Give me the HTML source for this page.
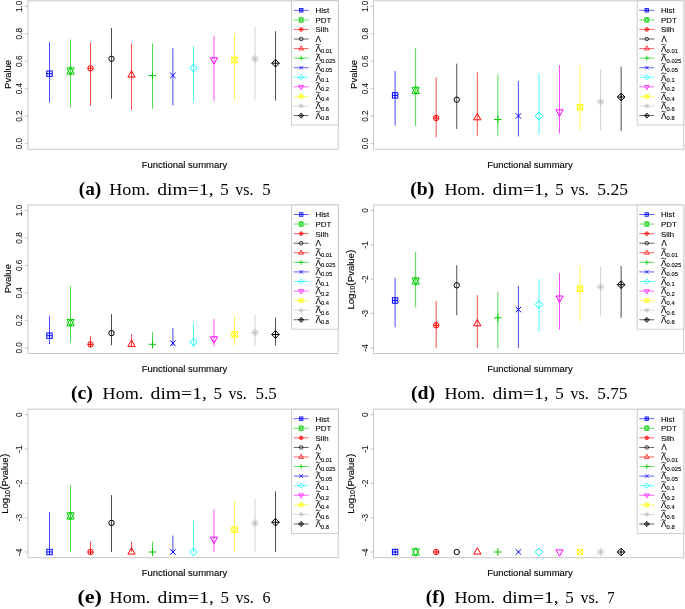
<!DOCTYPE html>
<html><head><meta charset="utf-8"><style>
html,body{margin:0;padding:0;background:#fff;}
svg{display:block;will-change:transform;}
text{font-family:"Liberation Sans",sans-serif;fill:#000;}
.tk{font-size:8.2px;fill:#111;stroke:#111;stroke-width:0.08px;}
.lab{font-size:9.5px;fill:#000;stroke:#000;stroke-width:0.12px;}
.sub{font-size:7px;}
.par{font-size:11px;}
.leg{font-size:7.9px;fill:#000;stroke:#000;stroke-width:0.1px;}
.lsub{font-size:5.8px;}
.lam{font-size:8.4px;}
.cap,.capb{font-family:"Liberation Serif",serif;font-size:16.7px;fill:#000;}
.capb{font-weight:bold;font-size:19px;}
</style></head><body>
<svg width="685" height="609" viewBox="0 0 685 609">
<rect width="685" height="609" fill="#fff"/>
<g transform="translate(0,0)">
<rect x="27.9" y="0.8" width="310.3" height="148.5" fill="none" stroke="#c8c8c8" stroke-width="1"/>
<line x1="24.9" y1="143.6" x2="27.9" y2="143.6" stroke="#b4b4b4" stroke-width="0.8"/>
<text x="0" y="0" transform="translate(22,143.6) rotate(-90)" text-anchor="middle" class="tk">0.0</text>
<line x1="24.9" y1="116.14" x2="27.9" y2="116.14" stroke="#b4b4b4" stroke-width="0.8"/>
<text x="0" y="0" transform="translate(22,116.14) rotate(-90)" text-anchor="middle" class="tk">0.2</text>
<line x1="24.9" y1="88.68" x2="27.9" y2="88.68" stroke="#b4b4b4" stroke-width="0.8"/>
<text x="0" y="0" transform="translate(22,88.68) rotate(-90)" text-anchor="middle" class="tk">0.4</text>
<line x1="24.9" y1="61.22" x2="27.9" y2="61.22" stroke="#b4b4b4" stroke-width="0.8"/>
<text x="0" y="0" transform="translate(22,61.22) rotate(-90)" text-anchor="middle" class="tk">0.6</text>
<line x1="24.9" y1="33.76" x2="27.9" y2="33.76" stroke="#b4b4b4" stroke-width="0.8"/>
<text x="0" y="0" transform="translate(22,33.76) rotate(-90)" text-anchor="middle" class="tk">0.8</text>
<line x1="24.9" y1="6.3" x2="27.9" y2="6.3" stroke="#b4b4b4" stroke-width="0.8"/>
<text x="0" y="0" transform="translate(22,6.3) rotate(-90)" text-anchor="middle" class="tk">1.0</text>
<text transform="translate(11,74.4) rotate(-90)" text-anchor="middle" class="lab">Pvalue</text>
<text x="184.4" y="167.8" text-anchor="middle" class="lab">Functional summary</text>
<line x1="49.5" y1="42" x2="49.5" y2="102.6" stroke="#0000ff" stroke-width="0.7"/>
<rect x="46.8" y="71" width="5.4" height="5.4" fill="none" stroke="#0000ff" stroke-width="1"/><line x1="46.8" y1="73.7" x2="52.2" y2="73.7" fill="none" stroke="#0000ff" stroke-width="1"/><line x1="49.5" y1="71" x2="49.5" y2="76.4" fill="none" stroke="#0000ff" stroke-width="1"/>
<line x1="70.5" y1="39.4" x2="70.5" y2="107.5" stroke="#00cd00" stroke-width="0.7"/>
<polygon points="70.5,66.8 74.14,74.15 66.86,74.15" fill="none" stroke="#00cd00" stroke-width="1"/><polygon points="70.5,75.2 74.14,67.85 66.86,67.85" fill="none" stroke="#00cd00" stroke-width="1"/>
<line x1="90.5" y1="42.3" x2="90.5" y2="105.9" stroke="#ff0000" stroke-width="0.7"/>
<circle cx="90.5" cy="68.3" r="2.7" fill="none" stroke="#ff0000" stroke-width="1"/><line x1="87.8" y1="68.3" x2="93.2" y2="68.3" fill="none" stroke="#ff0000" stroke-width="1"/><line x1="90.5" y1="65.6" x2="90.5" y2="71" fill="none" stroke="#ff0000" stroke-width="1"/>
<line x1="111.5" y1="27.9" x2="111.5" y2="98.7" stroke="#000000" stroke-width="0.7"/>
<circle cx="111.5" cy="58.8" r="2.7" fill="none" stroke="#000000" stroke-width="1"/>
<line x1="131.5" y1="43.5" x2="131.5" y2="109.8" stroke="#ff0000" stroke-width="0.7"/>
<polygon points="131.5,70.8 135.14,77.1 127.86,77.1" fill="none" stroke="#ff0000" stroke-width="1"/>
<line x1="152.5" y1="43.5" x2="152.5" y2="108.8" stroke="#00cd00" stroke-width="0.7"/>
<line x1="148.68" y1="75.5" x2="156.32" y2="75.5" fill="none" stroke="#00cd00" stroke-width="1"/><line x1="152.5" y1="71.68" x2="152.5" y2="79.32" fill="none" stroke="#00cd00" stroke-width="1"/>
<line x1="172.9" y1="48.2" x2="172.9" y2="105.4" stroke="#0000ff" stroke-width="0.7"/>
<line x1="170.2" y1="72.8" x2="175.6" y2="78.2" fill="none" stroke="#0000ff" stroke-width="1"/><line x1="170.2" y1="78.2" x2="175.6" y2="72.8" fill="none" stroke="#0000ff" stroke-width="1"/>
<line x1="193.5" y1="45.8" x2="193.5" y2="101.8" stroke="#00ffff" stroke-width="0.7"/>
<polygon points="189.68,68 193.5,64.18 197.32,68 193.5,71.82" fill="none" stroke="#00ffff" stroke-width="1"/>
<line x1="214" y1="35.9" x2="214" y2="100.8" stroke="#ff00ff" stroke-width="0.7"/>
<polygon points="214,64.1 217.64,57.8 210.36,57.8" fill="none" stroke="#ff00ff" stroke-width="1"/>
<line x1="234.5" y1="34.4" x2="234.5" y2="100.1" stroke="#ffff00" stroke-width="0.7"/>
<line x1="231.8" y1="57.2" x2="237.2" y2="62.6" fill="none" stroke="#ffff00" stroke-width="1"/><line x1="231.8" y1="62.6" x2="237.2" y2="57.2" fill="none" stroke="#ffff00" stroke-width="1"/><rect x="231.8" y="57.2" width="5.4" height="5.4" fill="none" stroke="#ffff00" stroke-width="1"/>
<line x1="255" y1="26.9" x2="255" y2="99.8" stroke="#bebebe" stroke-width="0.7"/>
<line x1="251.18" y1="58.9" x2="258.82" y2="58.9" fill="none" stroke="#bebebe" stroke-width="1"/><line x1="255" y1="55.08" x2="255" y2="62.72" fill="none" stroke="#bebebe" stroke-width="1"/><line x1="252.3" y1="56.2" x2="257.7" y2="61.6" fill="none" stroke="#bebebe" stroke-width="1"/><line x1="252.3" y1="61.6" x2="257.7" y2="56.2" fill="none" stroke="#bebebe" stroke-width="1"/>
<line x1="275.5" y1="31.2" x2="275.5" y2="100.6" stroke="#000000" stroke-width="0.7"/>
<line x1="271.68" y1="63.2" x2="279.32" y2="63.2" fill="none" stroke="#000000" stroke-width="1"/><line x1="275.5" y1="59.38" x2="275.5" y2="67.02" fill="none" stroke="#000000" stroke-width="1"/><polygon points="271.68,63.2 275.5,59.38 279.32,63.2 275.5,67.02" fill="none" stroke="#000000" stroke-width="1"/>
<rect x="291.6" y="0.8" width="46.6" height="124.2" fill="#fff" stroke="#c8c8c8" stroke-width="0.9"/>
<line x1="293.7" y1="10.3" x2="308.7" y2="10.3" stroke="#0000ff" stroke-width="0.62"/>
<rect x="299.4" y="8.5" width="3.6" height="3.6" fill="none" stroke="#0000ff" stroke-width="0.75"/><line x1="299.4" y1="10.3" x2="303" y2="10.3" fill="none" stroke="#0000ff" stroke-width="0.75"/><line x1="301.2" y1="8.5" x2="301.2" y2="12.1" fill="none" stroke="#0000ff" stroke-width="0.75"/>
<text x="315.5" y="13.2" class="leg">Hist</text>
<line x1="293.7" y1="19.87" x2="308.7" y2="19.87" stroke="#00cd00" stroke-width="0.62"/>
<polygon points="301.2,17.07 303.62,21.97 298.78,21.97" fill="none" stroke="#00cd00" stroke-width="0.75"/><polygon points="301.2,22.67 303.62,17.77 298.78,17.77" fill="none" stroke="#00cd00" stroke-width="0.75"/>
<text x="315.5" y="22.77" class="leg">PDT</text>
<line x1="293.7" y1="29.44" x2="308.7" y2="29.44" stroke="#ff0000" stroke-width="0.62"/>
<circle cx="301.2" cy="29.44" r="1.8" fill="none" stroke="#ff0000" stroke-width="0.75"/><line x1="299.4" y1="29.44" x2="303" y2="29.44" fill="none" stroke="#ff0000" stroke-width="0.75"/><line x1="301.2" y1="27.64" x2="301.2" y2="31.24" fill="none" stroke="#ff0000" stroke-width="0.75"/>
<text x="315.5" y="32.34" class="leg">Silh</text>
<line x1="293.7" y1="39.01" x2="308.7" y2="39.01" stroke="#000000" stroke-width="0.62"/>
<circle cx="301.2" cy="39.01" r="1.8" fill="none" stroke="#000000" stroke-width="0.75"/>
<text x="315.6" y="41.81" class="leg lam">&#923;</text>
<line x1="293.7" y1="48.58" x2="308.7" y2="48.58" stroke="#ff0000" stroke-width="0.62"/>
<polygon points="301.2,45.78 303.62,49.98 298.78,49.98" fill="none" stroke="#ff0000" stroke-width="0.75"/>
<text x="315.4" y="51.83" class="leg lam">&#923;<tspan class="lsub" dy="1.3">0.01</tspan></text>
<path d="M315.9,44.78 c0.7,-0.6 1.4,-0.6 2.2,-0.1 s1.5,0.5 2.3,-0.2" fill="none" stroke="#000" stroke-width="0.85"/>
<line x1="293.7" y1="58.15" x2="308.7" y2="58.15" stroke="#00cd00" stroke-width="0.62"/>
<line x1="298.65" y1="58.15" x2="303.75" y2="58.15" fill="none" stroke="#00cd00" stroke-width="0.75"/><line x1="301.2" y1="55.6" x2="301.2" y2="60.7" fill="none" stroke="#00cd00" stroke-width="0.75"/>
<text x="315.4" y="61.4" class="leg lam">&#923;<tspan class="lsub" dy="1.3">0.025</tspan></text>
<path d="M315.9,54.35 c0.7,-0.6 1.4,-0.6 2.2,-0.1 s1.5,0.5 2.3,-0.2" fill="none" stroke="#000" stroke-width="0.85"/>
<line x1="293.7" y1="67.72" x2="308.7" y2="67.72" stroke="#0000ff" stroke-width="0.62"/>
<line x1="299.4" y1="65.92" x2="303" y2="69.52" fill="none" stroke="#0000ff" stroke-width="0.75"/><line x1="299.4" y1="69.52" x2="303" y2="65.92" fill="none" stroke="#0000ff" stroke-width="0.75"/>
<text x="315.4" y="70.97" class="leg lam">&#923;<tspan class="lsub" dy="1.3">0.05</tspan></text>
<path d="M315.9,63.92 c0.7,-0.6 1.4,-0.6 2.2,-0.1 s1.5,0.5 2.3,-0.2" fill="none" stroke="#000" stroke-width="0.85"/>
<line x1="293.7" y1="77.29" x2="308.7" y2="77.29" stroke="#00ffff" stroke-width="0.62"/>
<polygon points="298.65,77.29 301.2,74.74 303.75,77.29 301.2,79.84" fill="none" stroke="#00ffff" stroke-width="0.75"/>
<text x="315.4" y="80.54" class="leg lam">&#923;<tspan class="lsub" dy="1.3">0.1</tspan></text>
<path d="M315.9,73.49 c0.7,-0.6 1.4,-0.6 2.2,-0.1 s1.5,0.5 2.3,-0.2" fill="none" stroke="#000" stroke-width="0.85"/>
<line x1="293.7" y1="86.86" x2="308.7" y2="86.86" stroke="#ff00ff" stroke-width="0.62"/>
<polygon points="301.2,89.66 303.62,85.46 298.78,85.46" fill="none" stroke="#ff00ff" stroke-width="0.75"/>
<text x="315.4" y="90.11" class="leg lam">&#923;<tspan class="lsub" dy="1.3">0.2</tspan></text>
<path d="M315.9,83.06 c0.7,-0.6 1.4,-0.6 2.2,-0.1 s1.5,0.5 2.3,-0.2" fill="none" stroke="#000" stroke-width="0.85"/>
<line x1="293.7" y1="96.43" x2="308.7" y2="96.43" stroke="#ffff00" stroke-width="0.62"/>
<line x1="299.4" y1="94.63" x2="303" y2="98.23" fill="none" stroke="#ffff00" stroke-width="0.75"/><line x1="299.4" y1="98.23" x2="303" y2="94.63" fill="none" stroke="#ffff00" stroke-width="0.75"/><rect x="299.4" y="94.63" width="3.6" height="3.6" fill="none" stroke="#ffff00" stroke-width="0.75"/>
<text x="315.4" y="99.68" class="leg lam">&#923;<tspan class="lsub" dy="1.3">0.4</tspan></text>
<path d="M315.9,92.63 c0.7,-0.6 1.4,-0.6 2.2,-0.1 s1.5,0.5 2.3,-0.2" fill="none" stroke="#000" stroke-width="0.85"/>
<line x1="293.7" y1="106" x2="308.7" y2="106" stroke="#bebebe" stroke-width="0.62"/>
<line x1="298.65" y1="106" x2="303.75" y2="106" fill="none" stroke="#bebebe" stroke-width="0.75"/><line x1="301.2" y1="103.45" x2="301.2" y2="108.55" fill="none" stroke="#bebebe" stroke-width="0.75"/><line x1="299.4" y1="104.2" x2="303" y2="107.8" fill="none" stroke="#bebebe" stroke-width="0.75"/><line x1="299.4" y1="107.8" x2="303" y2="104.2" fill="none" stroke="#bebebe" stroke-width="0.75"/>
<text x="315.4" y="109.25" class="leg lam">&#923;<tspan class="lsub" dy="1.3">0.6</tspan></text>
<path d="M315.9,102.2 c0.7,-0.6 1.4,-0.6 2.2,-0.1 s1.5,0.5 2.3,-0.2" fill="none" stroke="#000" stroke-width="0.85"/>
<line x1="293.7" y1="115.57" x2="308.7" y2="115.57" stroke="#000000" stroke-width="0.62"/>
<line x1="298.65" y1="115.57" x2="303.75" y2="115.57" fill="none" stroke="#000000" stroke-width="0.75"/><line x1="301.2" y1="113.02" x2="301.2" y2="118.12" fill="none" stroke="#000000" stroke-width="0.75"/><polygon points="298.65,115.57 301.2,113.02 303.75,115.57 301.2,118.12" fill="none" stroke="#000000" stroke-width="0.75"/>
<text x="315.4" y="118.82" class="leg lam">&#923;<tspan class="lsub" dy="1.3">0.8</tspan></text>
<path d="M315.9,111.77 c0.7,-0.6 1.4,-0.6 2.2,-0.1 s1.5,0.5 2.3,-0.2" fill="none" stroke="#000" stroke-width="0.85"/>
</g>
<text x="78.8" y="194.9" class="capb" textLength="22.5" lengthAdjust="spacingAndGlyphs">(a)</text>
<text x="109.3" y="194.9" class="cap" textLength="40.7" lengthAdjust="spacingAndGlyphs">Hom.</text>
<text x="157.3" y="194.9" class="cap" textLength="56.3" lengthAdjust="spacingAndGlyphs">dim=1,</text>
<text x="220.2" y="194.9" class="cap" textLength="8.5" lengthAdjust="spacingAndGlyphs">5</text>
<text x="235.3" y="194.9" class="cap" textLength="18.3" lengthAdjust="spacingAndGlyphs">vs.</text>
<text x="262.2" y="194.9" class="cap" textLength="8.4" lengthAdjust="spacingAndGlyphs">5</text>
<g transform="translate(345.6,0)">
<rect x="27.9" y="0.8" width="310.3" height="148.5" fill="none" stroke="#c8c8c8" stroke-width="1"/>
<line x1="24.9" y1="143.6" x2="27.9" y2="143.6" stroke="#b4b4b4" stroke-width="0.8"/>
<text x="0" y="0" transform="translate(22,143.6) rotate(-90)" text-anchor="middle" class="tk">0.0</text>
<line x1="24.9" y1="116.14" x2="27.9" y2="116.14" stroke="#b4b4b4" stroke-width="0.8"/>
<text x="0" y="0" transform="translate(22,116.14) rotate(-90)" text-anchor="middle" class="tk">0.2</text>
<line x1="24.9" y1="88.68" x2="27.9" y2="88.68" stroke="#b4b4b4" stroke-width="0.8"/>
<text x="0" y="0" transform="translate(22,88.68) rotate(-90)" text-anchor="middle" class="tk">0.4</text>
<line x1="24.9" y1="61.22" x2="27.9" y2="61.22" stroke="#b4b4b4" stroke-width="0.8"/>
<text x="0" y="0" transform="translate(22,61.22) rotate(-90)" text-anchor="middle" class="tk">0.6</text>
<line x1="24.9" y1="33.76" x2="27.9" y2="33.76" stroke="#b4b4b4" stroke-width="0.8"/>
<text x="0" y="0" transform="translate(22,33.76) rotate(-90)" text-anchor="middle" class="tk">0.8</text>
<line x1="24.9" y1="6.3" x2="27.9" y2="6.3" stroke="#b4b4b4" stroke-width="0.8"/>
<text x="0" y="0" transform="translate(22,6.3) rotate(-90)" text-anchor="middle" class="tk">1.0</text>
<text transform="translate(11,74.4) rotate(-90)" text-anchor="middle" class="lab">Pvalue</text>
<text x="184.4" y="167.8" text-anchor="middle" class="lab">Functional summary</text>
<line x1="49.5" y1="71" x2="49.5" y2="125.6" stroke="#0000ff" stroke-width="0.7"/>
<rect x="46.8" y="92.7" width="5.4" height="5.4" fill="none" stroke="#0000ff" stroke-width="1"/><line x1="46.8" y1="95.4" x2="52.2" y2="95.4" fill="none" stroke="#0000ff" stroke-width="1"/><line x1="49.5" y1="92.7" x2="49.5" y2="98.1" fill="none" stroke="#0000ff" stroke-width="1"/>
<line x1="70.05" y1="48.1" x2="70.05" y2="126" stroke="#00cd00" stroke-width="0.7"/>
<polygon points="70.05,86.2 73.69,93.55 66.41,93.55" fill="none" stroke="#00cd00" stroke-width="1"/><polygon points="70.05,94.6 73.69,87.25 66.41,87.25" fill="none" stroke="#00cd00" stroke-width="1"/>
<line x1="90.6" y1="77.3" x2="90.6" y2="137.2" stroke="#ff0000" stroke-width="0.7"/>
<circle cx="90.6" cy="118" r="2.7" fill="none" stroke="#ff0000" stroke-width="1"/><line x1="87.9" y1="118" x2="93.3" y2="118" fill="none" stroke="#ff0000" stroke-width="1"/><line x1="90.6" y1="115.3" x2="90.6" y2="120.7" fill="none" stroke="#ff0000" stroke-width="1"/>
<line x1="111.15" y1="63.6" x2="111.15" y2="128.9" stroke="#000000" stroke-width="0.7"/>
<circle cx="111.15" cy="99.7" r="2.7" fill="none" stroke="#000000" stroke-width="1"/>
<line x1="131.7" y1="72.2" x2="131.7" y2="135.7" stroke="#ff0000" stroke-width="0.7"/>
<polygon points="131.7,113.5 135.34,119.8 128.06,119.8" fill="none" stroke="#ff0000" stroke-width="1"/>
<line x1="152.25" y1="74.3" x2="152.25" y2="136.2" stroke="#00cd00" stroke-width="0.7"/>
<line x1="148.43" y1="119.5" x2="156.07" y2="119.5" fill="none" stroke="#00cd00" stroke-width="1"/><line x1="152.25" y1="115.68" x2="152.25" y2="123.32" fill="none" stroke="#00cd00" stroke-width="1"/>
<line x1="172.8" y1="81" x2="172.8" y2="136.4" stroke="#0000ff" stroke-width="0.7"/>
<line x1="170.1" y1="113.2" x2="175.5" y2="118.6" fill="none" stroke="#0000ff" stroke-width="1"/><line x1="170.1" y1="118.6" x2="175.5" y2="113.2" fill="none" stroke="#0000ff" stroke-width="1"/>
<line x1="193.35" y1="73.2" x2="193.35" y2="134.7" stroke="#00ffff" stroke-width="0.7"/>
<polygon points="189.53,115.9 193.35,112.08 197.17,115.9 193.35,119.72" fill="none" stroke="#00ffff" stroke-width="1"/>
<line x1="213.9" y1="65.1" x2="213.9" y2="133.6" stroke="#ff00ff" stroke-width="0.7"/>
<polygon points="213.9,116.1 217.54,109.8 210.26,109.8" fill="none" stroke="#ff00ff" stroke-width="1"/>
<line x1="234.45" y1="66" x2="234.45" y2="130.3" stroke="#ffff00" stroke-width="0.7"/>
<line x1="231.75" y1="104.6" x2="237.15" y2="110" fill="none" stroke="#ffff00" stroke-width="1"/><line x1="231.75" y1="110" x2="237.15" y2="104.6" fill="none" stroke="#ffff00" stroke-width="1"/><rect x="231.75" y="104.6" width="5.4" height="5.4" fill="none" stroke="#ffff00" stroke-width="1"/>
<line x1="255" y1="69.3" x2="255" y2="130.5" stroke="#bebebe" stroke-width="0.7"/>
<line x1="251.18" y1="101.8" x2="258.82" y2="101.8" fill="none" stroke="#bebebe" stroke-width="1"/><line x1="255" y1="97.98" x2="255" y2="105.62" fill="none" stroke="#bebebe" stroke-width="1"/><line x1="252.3" y1="99.1" x2="257.7" y2="104.5" fill="none" stroke="#bebebe" stroke-width="1"/><line x1="252.3" y1="104.5" x2="257.7" y2="99.1" fill="none" stroke="#bebebe" stroke-width="1"/>
<line x1="275.55" y1="66.7" x2="275.55" y2="130.9" stroke="#000000" stroke-width="0.7"/>
<line x1="271.73" y1="97" x2="279.37" y2="97" fill="none" stroke="#000000" stroke-width="1"/><line x1="275.55" y1="93.18" x2="275.55" y2="100.82" fill="none" stroke="#000000" stroke-width="1"/><polygon points="271.73,97 275.55,93.18 279.37,97 275.55,100.82" fill="none" stroke="#000000" stroke-width="1"/>
<rect x="291.6" y="0.8" width="46.6" height="124.2" fill="#fff" stroke="#c8c8c8" stroke-width="0.9"/>
<line x1="293.7" y1="10.3" x2="308.7" y2="10.3" stroke="#0000ff" stroke-width="0.62"/>
<rect x="299.4" y="8.5" width="3.6" height="3.6" fill="none" stroke="#0000ff" stroke-width="0.75"/><line x1="299.4" y1="10.3" x2="303" y2="10.3" fill="none" stroke="#0000ff" stroke-width="0.75"/><line x1="301.2" y1="8.5" x2="301.2" y2="12.1" fill="none" stroke="#0000ff" stroke-width="0.75"/>
<text x="315.5" y="13.2" class="leg">Hist</text>
<line x1="293.7" y1="19.87" x2="308.7" y2="19.87" stroke="#00cd00" stroke-width="0.62"/>
<polygon points="301.2,17.07 303.62,21.97 298.78,21.97" fill="none" stroke="#00cd00" stroke-width="0.75"/><polygon points="301.2,22.67 303.62,17.77 298.78,17.77" fill="none" stroke="#00cd00" stroke-width="0.75"/>
<text x="315.5" y="22.77" class="leg">PDT</text>
<line x1="293.7" y1="29.44" x2="308.7" y2="29.44" stroke="#ff0000" stroke-width="0.62"/>
<circle cx="301.2" cy="29.44" r="1.8" fill="none" stroke="#ff0000" stroke-width="0.75"/><line x1="299.4" y1="29.44" x2="303" y2="29.44" fill="none" stroke="#ff0000" stroke-width="0.75"/><line x1="301.2" y1="27.64" x2="301.2" y2="31.24" fill="none" stroke="#ff0000" stroke-width="0.75"/>
<text x="315.5" y="32.34" class="leg">Silh</text>
<line x1="293.7" y1="39.01" x2="308.7" y2="39.01" stroke="#000000" stroke-width="0.62"/>
<circle cx="301.2" cy="39.01" r="1.8" fill="none" stroke="#000000" stroke-width="0.75"/>
<text x="315.6" y="41.81" class="leg lam">&#923;</text>
<line x1="293.7" y1="48.58" x2="308.7" y2="48.58" stroke="#ff0000" stroke-width="0.62"/>
<polygon points="301.2,45.78 303.62,49.98 298.78,49.98" fill="none" stroke="#ff0000" stroke-width="0.75"/>
<text x="315.4" y="51.83" class="leg lam">&#923;<tspan class="lsub" dy="1.3">0.01</tspan></text>
<path d="M315.9,44.78 c0.7,-0.6 1.4,-0.6 2.2,-0.1 s1.5,0.5 2.3,-0.2" fill="none" stroke="#000" stroke-width="0.85"/>
<line x1="293.7" y1="58.15" x2="308.7" y2="58.15" stroke="#00cd00" stroke-width="0.62"/>
<line x1="298.65" y1="58.15" x2="303.75" y2="58.15" fill="none" stroke="#00cd00" stroke-width="0.75"/><line x1="301.2" y1="55.6" x2="301.2" y2="60.7" fill="none" stroke="#00cd00" stroke-width="0.75"/>
<text x="315.4" y="61.4" class="leg lam">&#923;<tspan class="lsub" dy="1.3">0.025</tspan></text>
<path d="M315.9,54.35 c0.7,-0.6 1.4,-0.6 2.2,-0.1 s1.5,0.5 2.3,-0.2" fill="none" stroke="#000" stroke-width="0.85"/>
<line x1="293.7" y1="67.72" x2="308.7" y2="67.72" stroke="#0000ff" stroke-width="0.62"/>
<line x1="299.4" y1="65.92" x2="303" y2="69.52" fill="none" stroke="#0000ff" stroke-width="0.75"/><line x1="299.4" y1="69.52" x2="303" y2="65.92" fill="none" stroke="#0000ff" stroke-width="0.75"/>
<text x="315.4" y="70.97" class="leg lam">&#923;<tspan class="lsub" dy="1.3">0.05</tspan></text>
<path d="M315.9,63.92 c0.7,-0.6 1.4,-0.6 2.2,-0.1 s1.5,0.5 2.3,-0.2" fill="none" stroke="#000" stroke-width="0.85"/>
<line x1="293.7" y1="77.29" x2="308.7" y2="77.29" stroke="#00ffff" stroke-width="0.62"/>
<polygon points="298.65,77.29 301.2,74.74 303.75,77.29 301.2,79.84" fill="none" stroke="#00ffff" stroke-width="0.75"/>
<text x="315.4" y="80.54" class="leg lam">&#923;<tspan class="lsub" dy="1.3">0.1</tspan></text>
<path d="M315.9,73.49 c0.7,-0.6 1.4,-0.6 2.2,-0.1 s1.5,0.5 2.3,-0.2" fill="none" stroke="#000" stroke-width="0.85"/>
<line x1="293.7" y1="86.86" x2="308.7" y2="86.86" stroke="#ff00ff" stroke-width="0.62"/>
<polygon points="301.2,89.66 303.62,85.46 298.78,85.46" fill="none" stroke="#ff00ff" stroke-width="0.75"/>
<text x="315.4" y="90.11" class="leg lam">&#923;<tspan class="lsub" dy="1.3">0.2</tspan></text>
<path d="M315.9,83.06 c0.7,-0.6 1.4,-0.6 2.2,-0.1 s1.5,0.5 2.3,-0.2" fill="none" stroke="#000" stroke-width="0.85"/>
<line x1="293.7" y1="96.43" x2="308.7" y2="96.43" stroke="#ffff00" stroke-width="0.62"/>
<line x1="299.4" y1="94.63" x2="303" y2="98.23" fill="none" stroke="#ffff00" stroke-width="0.75"/><line x1="299.4" y1="98.23" x2="303" y2="94.63" fill="none" stroke="#ffff00" stroke-width="0.75"/><rect x="299.4" y="94.63" width="3.6" height="3.6" fill="none" stroke="#ffff00" stroke-width="0.75"/>
<text x="315.4" y="99.68" class="leg lam">&#923;<tspan class="lsub" dy="1.3">0.4</tspan></text>
<path d="M315.9,92.63 c0.7,-0.6 1.4,-0.6 2.2,-0.1 s1.5,0.5 2.3,-0.2" fill="none" stroke="#000" stroke-width="0.85"/>
<line x1="293.7" y1="106" x2="308.7" y2="106" stroke="#bebebe" stroke-width="0.62"/>
<line x1="298.65" y1="106" x2="303.75" y2="106" fill="none" stroke="#bebebe" stroke-width="0.75"/><line x1="301.2" y1="103.45" x2="301.2" y2="108.55" fill="none" stroke="#bebebe" stroke-width="0.75"/><line x1="299.4" y1="104.2" x2="303" y2="107.8" fill="none" stroke="#bebebe" stroke-width="0.75"/><line x1="299.4" y1="107.8" x2="303" y2="104.2" fill="none" stroke="#bebebe" stroke-width="0.75"/>
<text x="315.4" y="109.25" class="leg lam">&#923;<tspan class="lsub" dy="1.3">0.6</tspan></text>
<path d="M315.9,102.2 c0.7,-0.6 1.4,-0.6 2.2,-0.1 s1.5,0.5 2.3,-0.2" fill="none" stroke="#000" stroke-width="0.85"/>
<line x1="293.7" y1="115.57" x2="308.7" y2="115.57" stroke="#000000" stroke-width="0.62"/>
<line x1="298.65" y1="115.57" x2="303.75" y2="115.57" fill="none" stroke="#000000" stroke-width="0.75"/><line x1="301.2" y1="113.02" x2="301.2" y2="118.12" fill="none" stroke="#000000" stroke-width="0.75"/><polygon points="298.65,115.57 301.2,113.02 303.75,115.57 301.2,118.12" fill="none" stroke="#000000" stroke-width="0.75"/>
<text x="315.4" y="118.82" class="leg lam">&#923;<tspan class="lsub" dy="1.3">0.8</tspan></text>
<path d="M315.9,111.77 c0.7,-0.6 1.4,-0.6 2.2,-0.1 s1.5,0.5 2.3,-0.2" fill="none" stroke="#000" stroke-width="0.85"/>
</g>
<text x="410.2" y="194.7" class="capb" textLength="24" lengthAdjust="spacingAndGlyphs">(b)</text>
<text x="444.4" y="194.7" class="cap" textLength="40.7" lengthAdjust="spacingAndGlyphs">Hom.</text>
<text x="492.4" y="194.7" class="cap" textLength="56.3" lengthAdjust="spacingAndGlyphs">dim=1,</text>
<text x="555.3" y="194.7" class="cap" textLength="8.5" lengthAdjust="spacingAndGlyphs">5</text>
<text x="570.4" y="194.7" class="cap" textLength="18.3" lengthAdjust="spacingAndGlyphs">vs.</text>
<text x="597.3" y="194.7" class="cap" textLength="30.8" lengthAdjust="spacingAndGlyphs">5.25</text>
<g transform="translate(0,204.2)">
<rect x="27.9" y="0.8" width="310.3" height="148.5" fill="none" stroke="#c8c8c8" stroke-width="1"/>
<line x1="24.9" y1="143.6" x2="27.9" y2="143.6" stroke="#b4b4b4" stroke-width="0.8"/>
<text x="0" y="0" transform="translate(22,143.6) rotate(-90)" text-anchor="middle" class="tk">0.0</text>
<line x1="24.9" y1="116.14" x2="27.9" y2="116.14" stroke="#b4b4b4" stroke-width="0.8"/>
<text x="0" y="0" transform="translate(22,116.14) rotate(-90)" text-anchor="middle" class="tk">0.2</text>
<line x1="24.9" y1="88.68" x2="27.9" y2="88.68" stroke="#b4b4b4" stroke-width="0.8"/>
<text x="0" y="0" transform="translate(22,88.68) rotate(-90)" text-anchor="middle" class="tk">0.4</text>
<line x1="24.9" y1="61.22" x2="27.9" y2="61.22" stroke="#b4b4b4" stroke-width="0.8"/>
<text x="0" y="0" transform="translate(22,61.22) rotate(-90)" text-anchor="middle" class="tk">0.6</text>
<line x1="24.9" y1="33.76" x2="27.9" y2="33.76" stroke="#b4b4b4" stroke-width="0.8"/>
<text x="0" y="0" transform="translate(22,33.76) rotate(-90)" text-anchor="middle" class="tk">0.8</text>
<line x1="24.9" y1="6.3" x2="27.9" y2="6.3" stroke="#b4b4b4" stroke-width="0.8"/>
<text x="0" y="0" transform="translate(22,6.3) rotate(-90)" text-anchor="middle" class="tk">1.0</text>
<text transform="translate(11,74.4) rotate(-90)" text-anchor="middle" class="lab">Pvalue</text>
<text x="184.4" y="167.8" text-anchor="middle" class="lab">Functional summary</text>
<line x1="49.5" y1="111.6" x2="49.5" y2="140" stroke="#0000ff" stroke-width="0.7"/>
<rect x="46.8" y="128.8" width="5.4" height="5.4" fill="none" stroke="#0000ff" stroke-width="1"/><line x1="46.8" y1="131.5" x2="52.2" y2="131.5" fill="none" stroke="#0000ff" stroke-width="1"/><line x1="49.5" y1="128.8" x2="49.5" y2="134.2" fill="none" stroke="#0000ff" stroke-width="1"/>
<line x1="70.5" y1="82.1" x2="70.5" y2="138.5" stroke="#00cd00" stroke-width="0.7"/>
<polygon points="70.5,114.2 74.14,121.55 66.86,121.55" fill="none" stroke="#00cd00" stroke-width="1"/><polygon points="70.5,122.6 74.14,115.25 66.86,115.25" fill="none" stroke="#00cd00" stroke-width="1"/>
<line x1="90.5" y1="131.9" x2="90.5" y2="143.2" stroke="#ff0000" stroke-width="0.7"/>
<circle cx="90.5" cy="140.2" r="2.7" fill="none" stroke="#ff0000" stroke-width="1"/><line x1="87.8" y1="140.2" x2="93.2" y2="140.2" fill="none" stroke="#ff0000" stroke-width="1"/><line x1="90.5" y1="137.5" x2="90.5" y2="142.9" fill="none" stroke="#ff0000" stroke-width="1"/>
<line x1="111.5" y1="109.9" x2="111.5" y2="141" stroke="#000000" stroke-width="0.7"/>
<circle cx="111.5" cy="128.9" r="2.7" fill="none" stroke="#000000" stroke-width="1"/>
<line x1="131.5" y1="129.9" x2="131.5" y2="143" stroke="#ff0000" stroke-width="0.7"/>
<polygon points="131.5,135.9 135.14,142.2 127.86,142.2" fill="none" stroke="#ff0000" stroke-width="1"/>
<line x1="152.5" y1="128.1" x2="152.5" y2="144.3" stroke="#00cd00" stroke-width="0.7"/>
<line x1="148.68" y1="140.1" x2="156.32" y2="140.1" fill="none" stroke="#00cd00" stroke-width="1"/><line x1="152.5" y1="136.28" x2="152.5" y2="143.92" fill="none" stroke="#00cd00" stroke-width="1"/>
<line x1="172.9" y1="123.8" x2="172.9" y2="141.9" stroke="#0000ff" stroke-width="0.7"/>
<line x1="170.2" y1="136.3" x2="175.6" y2="141.7" fill="none" stroke="#0000ff" stroke-width="1"/><line x1="170.2" y1="141.7" x2="175.6" y2="136.3" fill="none" stroke="#0000ff" stroke-width="1"/>
<line x1="193.5" y1="118.9" x2="193.5" y2="142.3" stroke="#00ffff" stroke-width="0.7"/>
<polygon points="189.68,137.9 193.5,134.08 197.32,137.9 193.5,141.72" fill="none" stroke="#00ffff" stroke-width="1"/>
<line x1="214" y1="114.8" x2="214" y2="142.3" stroke="#ff00ff" stroke-width="0.7"/>
<polygon points="214,138.9 217.64,132.6 210.36,132.6" fill="none" stroke="#ff00ff" stroke-width="1"/>
<line x1="234.5" y1="111.4" x2="234.5" y2="141.3" stroke="#ffff00" stroke-width="0.7"/>
<line x1="231.8" y1="127.6" x2="237.2" y2="133" fill="none" stroke="#ffff00" stroke-width="1"/><line x1="231.8" y1="133" x2="237.2" y2="127.6" fill="none" stroke="#ffff00" stroke-width="1"/><rect x="231.8" y="127.6" width="5.4" height="5.4" fill="none" stroke="#ffff00" stroke-width="1"/>
<line x1="255" y1="111" x2="255" y2="141.3" stroke="#bebebe" stroke-width="0.7"/>
<line x1="251.18" y1="128.4" x2="258.82" y2="128.4" fill="none" stroke="#bebebe" stroke-width="1"/><line x1="255" y1="124.58" x2="255" y2="132.22" fill="none" stroke="#bebebe" stroke-width="1"/><line x1="252.3" y1="125.7" x2="257.7" y2="131.1" fill="none" stroke="#bebebe" stroke-width="1"/><line x1="252.3" y1="131.1" x2="257.7" y2="125.7" fill="none" stroke="#bebebe" stroke-width="1"/>
<line x1="275.5" y1="113.3" x2="275.5" y2="141.3" stroke="#000000" stroke-width="0.7"/>
<line x1="271.68" y1="130.3" x2="279.32" y2="130.3" fill="none" stroke="#000000" stroke-width="1"/><line x1="275.5" y1="126.48" x2="275.5" y2="134.12" fill="none" stroke="#000000" stroke-width="1"/><polygon points="271.68,130.3 275.5,126.48 279.32,130.3 275.5,134.12" fill="none" stroke="#000000" stroke-width="1"/>
<rect x="291.6" y="0.8" width="46.6" height="124.2" fill="#fff" stroke="#c8c8c8" stroke-width="0.9"/>
<line x1="293.7" y1="10.3" x2="308.7" y2="10.3" stroke="#0000ff" stroke-width="0.62"/>
<rect x="299.4" y="8.5" width="3.6" height="3.6" fill="none" stroke="#0000ff" stroke-width="0.75"/><line x1="299.4" y1="10.3" x2="303" y2="10.3" fill="none" stroke="#0000ff" stroke-width="0.75"/><line x1="301.2" y1="8.5" x2="301.2" y2="12.1" fill="none" stroke="#0000ff" stroke-width="0.75"/>
<text x="315.5" y="13.2" class="leg">Hist</text>
<line x1="293.7" y1="19.87" x2="308.7" y2="19.87" stroke="#00cd00" stroke-width="0.62"/>
<polygon points="301.2,17.07 303.62,21.97 298.78,21.97" fill="none" stroke="#00cd00" stroke-width="0.75"/><polygon points="301.2,22.67 303.62,17.77 298.78,17.77" fill="none" stroke="#00cd00" stroke-width="0.75"/>
<text x="315.5" y="22.77" class="leg">PDT</text>
<line x1="293.7" y1="29.44" x2="308.7" y2="29.44" stroke="#ff0000" stroke-width="0.62"/>
<circle cx="301.2" cy="29.44" r="1.8" fill="none" stroke="#ff0000" stroke-width="0.75"/><line x1="299.4" y1="29.44" x2="303" y2="29.44" fill="none" stroke="#ff0000" stroke-width="0.75"/><line x1="301.2" y1="27.64" x2="301.2" y2="31.24" fill="none" stroke="#ff0000" stroke-width="0.75"/>
<text x="315.5" y="32.34" class="leg">Silh</text>
<line x1="293.7" y1="39.01" x2="308.7" y2="39.01" stroke="#000000" stroke-width="0.62"/>
<circle cx="301.2" cy="39.01" r="1.8" fill="none" stroke="#000000" stroke-width="0.75"/>
<text x="315.6" y="41.81" class="leg lam">&#923;</text>
<line x1="293.7" y1="48.58" x2="308.7" y2="48.58" stroke="#ff0000" stroke-width="0.62"/>
<polygon points="301.2,45.78 303.62,49.98 298.78,49.98" fill="none" stroke="#ff0000" stroke-width="0.75"/>
<text x="315.4" y="51.83" class="leg lam">&#923;<tspan class="lsub" dy="1.3">0.01</tspan></text>
<path d="M315.9,44.78 c0.7,-0.6 1.4,-0.6 2.2,-0.1 s1.5,0.5 2.3,-0.2" fill="none" stroke="#000" stroke-width="0.85"/>
<line x1="293.7" y1="58.15" x2="308.7" y2="58.15" stroke="#00cd00" stroke-width="0.62"/>
<line x1="298.65" y1="58.15" x2="303.75" y2="58.15" fill="none" stroke="#00cd00" stroke-width="0.75"/><line x1="301.2" y1="55.6" x2="301.2" y2="60.7" fill="none" stroke="#00cd00" stroke-width="0.75"/>
<text x="315.4" y="61.4" class="leg lam">&#923;<tspan class="lsub" dy="1.3">0.025</tspan></text>
<path d="M315.9,54.35 c0.7,-0.6 1.4,-0.6 2.2,-0.1 s1.5,0.5 2.3,-0.2" fill="none" stroke="#000" stroke-width="0.85"/>
<line x1="293.7" y1="67.72" x2="308.7" y2="67.72" stroke="#0000ff" stroke-width="0.62"/>
<line x1="299.4" y1="65.92" x2="303" y2="69.52" fill="none" stroke="#0000ff" stroke-width="0.75"/><line x1="299.4" y1="69.52" x2="303" y2="65.92" fill="none" stroke="#0000ff" stroke-width="0.75"/>
<text x="315.4" y="70.97" class="leg lam">&#923;<tspan class="lsub" dy="1.3">0.05</tspan></text>
<path d="M315.9,63.92 c0.7,-0.6 1.4,-0.6 2.2,-0.1 s1.5,0.5 2.3,-0.2" fill="none" stroke="#000" stroke-width="0.85"/>
<line x1="293.7" y1="77.29" x2="308.7" y2="77.29" stroke="#00ffff" stroke-width="0.62"/>
<polygon points="298.65,77.29 301.2,74.74 303.75,77.29 301.2,79.84" fill="none" stroke="#00ffff" stroke-width="0.75"/>
<text x="315.4" y="80.54" class="leg lam">&#923;<tspan class="lsub" dy="1.3">0.1</tspan></text>
<path d="M315.9,73.49 c0.7,-0.6 1.4,-0.6 2.2,-0.1 s1.5,0.5 2.3,-0.2" fill="none" stroke="#000" stroke-width="0.85"/>
<line x1="293.7" y1="86.86" x2="308.7" y2="86.86" stroke="#ff00ff" stroke-width="0.62"/>
<polygon points="301.2,89.66 303.62,85.46 298.78,85.46" fill="none" stroke="#ff00ff" stroke-width="0.75"/>
<text x="315.4" y="90.11" class="leg lam">&#923;<tspan class="lsub" dy="1.3">0.2</tspan></text>
<path d="M315.9,83.06 c0.7,-0.6 1.4,-0.6 2.2,-0.1 s1.5,0.5 2.3,-0.2" fill="none" stroke="#000" stroke-width="0.85"/>
<line x1="293.7" y1="96.43" x2="308.7" y2="96.43" stroke="#ffff00" stroke-width="0.62"/>
<line x1="299.4" y1="94.63" x2="303" y2="98.23" fill="none" stroke="#ffff00" stroke-width="0.75"/><line x1="299.4" y1="98.23" x2="303" y2="94.63" fill="none" stroke="#ffff00" stroke-width="0.75"/><rect x="299.4" y="94.63" width="3.6" height="3.6" fill="none" stroke="#ffff00" stroke-width="0.75"/>
<text x="315.4" y="99.68" class="leg lam">&#923;<tspan class="lsub" dy="1.3">0.4</tspan></text>
<path d="M315.9,92.63 c0.7,-0.6 1.4,-0.6 2.2,-0.1 s1.5,0.5 2.3,-0.2" fill="none" stroke="#000" stroke-width="0.85"/>
<line x1="293.7" y1="106" x2="308.7" y2="106" stroke="#bebebe" stroke-width="0.62"/>
<line x1="298.65" y1="106" x2="303.75" y2="106" fill="none" stroke="#bebebe" stroke-width="0.75"/><line x1="301.2" y1="103.45" x2="301.2" y2="108.55" fill="none" stroke="#bebebe" stroke-width="0.75"/><line x1="299.4" y1="104.2" x2="303" y2="107.8" fill="none" stroke="#bebebe" stroke-width="0.75"/><line x1="299.4" y1="107.8" x2="303" y2="104.2" fill="none" stroke="#bebebe" stroke-width="0.75"/>
<text x="315.4" y="109.25" class="leg lam">&#923;<tspan class="lsub" dy="1.3">0.6</tspan></text>
<path d="M315.9,102.2 c0.7,-0.6 1.4,-0.6 2.2,-0.1 s1.5,0.5 2.3,-0.2" fill="none" stroke="#000" stroke-width="0.85"/>
<line x1="293.7" y1="115.57" x2="308.7" y2="115.57" stroke="#000000" stroke-width="0.62"/>
<line x1="298.65" y1="115.57" x2="303.75" y2="115.57" fill="none" stroke="#000000" stroke-width="0.75"/><line x1="301.2" y1="113.02" x2="301.2" y2="118.12" fill="none" stroke="#000000" stroke-width="0.75"/><polygon points="298.65,115.57 301.2,113.02 303.75,115.57 301.2,118.12" fill="none" stroke="#000000" stroke-width="0.75"/>
<text x="315.4" y="118.82" class="leg lam">&#923;<tspan class="lsub" dy="1.3">0.8</tspan></text>
<path d="M315.9,111.77 c0.7,-0.6 1.4,-0.6 2.2,-0.1 s1.5,0.5 2.3,-0.2" fill="none" stroke="#000" stroke-width="0.85"/>
</g>
<text x="70.9" y="399" class="capb" textLength="22" lengthAdjust="spacingAndGlyphs">(c)</text>
<text x="102.6" y="399" class="cap" textLength="40.7" lengthAdjust="spacingAndGlyphs">Hom.</text>
<text x="150.6" y="399" class="cap" textLength="56.3" lengthAdjust="spacingAndGlyphs">dim=1,</text>
<text x="213.5" y="399" class="cap" textLength="8.5" lengthAdjust="spacingAndGlyphs">5</text>
<text x="228.6" y="399" class="cap" textLength="18.3" lengthAdjust="spacingAndGlyphs">vs.</text>
<text x="255.5" y="399" class="cap" textLength="21.2" lengthAdjust="spacingAndGlyphs">5.5</text>
<g transform="translate(345.6,204.2)">
<rect x="27.9" y="0.8" width="310.3" height="148.5" fill="none" stroke="#c8c8c8" stroke-width="1"/>
<line x1="24.9" y1="143.6" x2="27.9" y2="143.6" stroke="#b4b4b4" stroke-width="0.8"/>
<text x="0" y="0" transform="translate(22,143.6) rotate(-90)" text-anchor="middle" class="tk">-4</text>
<line x1="24.9" y1="109.28" x2="27.9" y2="109.28" stroke="#b4b4b4" stroke-width="0.8"/>
<text x="0" y="0" transform="translate(22,109.28) rotate(-90)" text-anchor="middle" class="tk">-3</text>
<line x1="24.9" y1="74.95" x2="27.9" y2="74.95" stroke="#b4b4b4" stroke-width="0.8"/>
<text x="0" y="0" transform="translate(22,74.95) rotate(-90)" text-anchor="middle" class="tk">-2</text>
<line x1="24.9" y1="40.62" x2="27.9" y2="40.62" stroke="#b4b4b4" stroke-width="0.8"/>
<text x="0" y="0" transform="translate(22,40.62) rotate(-90)" text-anchor="middle" class="tk">-1</text>
<line x1="24.9" y1="6.3" x2="27.9" y2="6.3" stroke="#b4b4b4" stroke-width="0.8"/>
<text x="0" y="0" transform="translate(22,6.3) rotate(-90)" text-anchor="middle" class="tk">0</text>
<text transform="translate(8,75.3) rotate(-90)" text-anchor="middle" class="lab">Log<tspan class="sub" dy="1.6">10</tspan><tspan dy="-1.6" class="par">(</tspan>Pvalue<tspan class="par">)</tspan></text>
<text x="184.4" y="167.8" text-anchor="middle" class="lab">Functional summary</text>
<line x1="49.5" y1="73.6" x2="49.5" y2="123.1" stroke="#0000ff" stroke-width="0.7"/>
<rect x="46.8" y="93.6" width="5.4" height="5.4" fill="none" stroke="#0000ff" stroke-width="1"/><line x1="46.8" y1="96.3" x2="52.2" y2="96.3" fill="none" stroke="#0000ff" stroke-width="1"/><line x1="49.5" y1="93.6" x2="49.5" y2="99" fill="none" stroke="#0000ff" stroke-width="1"/>
<line x1="70.05" y1="47.6" x2="70.05" y2="103.2" stroke="#00cd00" stroke-width="0.7"/>
<polygon points="70.05,72.6 73.69,79.95 66.41,79.95" fill="none" stroke="#00cd00" stroke-width="1"/><polygon points="70.05,81 73.69,73.65 66.41,73.65" fill="none" stroke="#00cd00" stroke-width="1"/>
<line x1="90.6" y1="96.9" x2="90.6" y2="143.8" stroke="#ff0000" stroke-width="0.7"/>
<circle cx="90.6" cy="121.1" r="2.7" fill="none" stroke="#ff0000" stroke-width="1"/><line x1="87.9" y1="121.1" x2="93.3" y2="121.1" fill="none" stroke="#ff0000" stroke-width="1"/><line x1="90.6" y1="118.4" x2="90.6" y2="123.8" fill="none" stroke="#ff0000" stroke-width="1"/>
<line x1="111.15" y1="61" x2="111.15" y2="111.1" stroke="#000000" stroke-width="0.7"/>
<circle cx="111.15" cy="81.1" r="2.7" fill="none" stroke="#000000" stroke-width="1"/>
<line x1="131.7" y1="91" x2="131.7" y2="143.8" stroke="#ff0000" stroke-width="0.7"/>
<polygon points="131.7,115.3 135.34,121.6 128.06,121.6" fill="none" stroke="#ff0000" stroke-width="1"/>
<line x1="152.25" y1="88" x2="152.25" y2="143.8" stroke="#00cd00" stroke-width="0.7"/>
<line x1="148.43" y1="113.6" x2="156.07" y2="113.6" fill="none" stroke="#00cd00" stroke-width="1"/><line x1="152.25" y1="109.78" x2="152.25" y2="117.42" fill="none" stroke="#00cd00" stroke-width="1"/>
<line x1="172.8" y1="81.5" x2="172.8" y2="143.8" stroke="#0000ff" stroke-width="0.7"/>
<line x1="170.1" y1="102.7" x2="175.5" y2="108.1" fill="none" stroke="#0000ff" stroke-width="1"/><line x1="170.1" y1="108.1" x2="175.5" y2="102.7" fill="none" stroke="#0000ff" stroke-width="1"/>
<line x1="193.35" y1="74.8" x2="193.35" y2="127.4" stroke="#00ffff" stroke-width="0.7"/>
<polygon points="189.53,100.2 193.35,96.38 197.17,100.2 193.35,104.02" fill="none" stroke="#00ffff" stroke-width="1"/>
<line x1="213.9" y1="68.7" x2="213.9" y2="125.5" stroke="#ff00ff" stroke-width="0.7"/>
<polygon points="213.9,98.1 217.54,91.8 210.26,91.8" fill="none" stroke="#ff00ff" stroke-width="1"/>
<line x1="234.45" y1="62" x2="234.45" y2="116.6" stroke="#ffff00" stroke-width="0.7"/>
<line x1="231.75" y1="81.8" x2="237.15" y2="87.2" fill="none" stroke="#ffff00" stroke-width="1"/><line x1="231.75" y1="87.2" x2="237.15" y2="81.8" fill="none" stroke="#ffff00" stroke-width="1"/><rect x="231.75" y="81.8" width="5.4" height="5.4" fill="none" stroke="#ffff00" stroke-width="1"/>
<line x1="255" y1="62" x2="255" y2="111.7" stroke="#bebebe" stroke-width="0.7"/>
<line x1="251.18" y1="82.7" x2="258.82" y2="82.7" fill="none" stroke="#bebebe" stroke-width="1"/><line x1="255" y1="78.88" x2="255" y2="86.52" fill="none" stroke="#bebebe" stroke-width="1"/><line x1="252.3" y1="80" x2="257.7" y2="85.4" fill="none" stroke="#bebebe" stroke-width="1"/><line x1="252.3" y1="85.4" x2="257.7" y2="80" fill="none" stroke="#bebebe" stroke-width="1"/>
<line x1="275.55" y1="61.8" x2="275.55" y2="113.6" stroke="#000000" stroke-width="0.7"/>
<line x1="271.73" y1="80.5" x2="279.37" y2="80.5" fill="none" stroke="#000000" stroke-width="1"/><line x1="275.55" y1="76.68" x2="275.55" y2="84.32" fill="none" stroke="#000000" stroke-width="1"/><polygon points="271.73,80.5 275.55,76.68 279.37,80.5 275.55,84.32" fill="none" stroke="#000000" stroke-width="1"/>
<rect x="291.6" y="0.8" width="46.6" height="124.2" fill="#fff" stroke="#c8c8c8" stroke-width="0.9"/>
<line x1="293.7" y1="10.3" x2="308.7" y2="10.3" stroke="#0000ff" stroke-width="0.62"/>
<rect x="299.4" y="8.5" width="3.6" height="3.6" fill="none" stroke="#0000ff" stroke-width="0.75"/><line x1="299.4" y1="10.3" x2="303" y2="10.3" fill="none" stroke="#0000ff" stroke-width="0.75"/><line x1="301.2" y1="8.5" x2="301.2" y2="12.1" fill="none" stroke="#0000ff" stroke-width="0.75"/>
<text x="315.5" y="13.2" class="leg">Hist</text>
<line x1="293.7" y1="19.87" x2="308.7" y2="19.87" stroke="#00cd00" stroke-width="0.62"/>
<polygon points="301.2,17.07 303.62,21.97 298.78,21.97" fill="none" stroke="#00cd00" stroke-width="0.75"/><polygon points="301.2,22.67 303.62,17.77 298.78,17.77" fill="none" stroke="#00cd00" stroke-width="0.75"/>
<text x="315.5" y="22.77" class="leg">PDT</text>
<line x1="293.7" y1="29.44" x2="308.7" y2="29.44" stroke="#ff0000" stroke-width="0.62"/>
<circle cx="301.2" cy="29.44" r="1.8" fill="none" stroke="#ff0000" stroke-width="0.75"/><line x1="299.4" y1="29.44" x2="303" y2="29.44" fill="none" stroke="#ff0000" stroke-width="0.75"/><line x1="301.2" y1="27.64" x2="301.2" y2="31.24" fill="none" stroke="#ff0000" stroke-width="0.75"/>
<text x="315.5" y="32.34" class="leg">Silh</text>
<line x1="293.7" y1="39.01" x2="308.7" y2="39.01" stroke="#000000" stroke-width="0.62"/>
<circle cx="301.2" cy="39.01" r="1.8" fill="none" stroke="#000000" stroke-width="0.75"/>
<text x="315.6" y="41.81" class="leg lam">&#923;</text>
<line x1="293.7" y1="48.58" x2="308.7" y2="48.58" stroke="#ff0000" stroke-width="0.62"/>
<polygon points="301.2,45.78 303.62,49.98 298.78,49.98" fill="none" stroke="#ff0000" stroke-width="0.75"/>
<text x="315.4" y="51.83" class="leg lam">&#923;<tspan class="lsub" dy="1.3">0.01</tspan></text>
<path d="M315.9,44.78 c0.7,-0.6 1.4,-0.6 2.2,-0.1 s1.5,0.5 2.3,-0.2" fill="none" stroke="#000" stroke-width="0.85"/>
<line x1="293.7" y1="58.15" x2="308.7" y2="58.15" stroke="#00cd00" stroke-width="0.62"/>
<line x1="298.65" y1="58.15" x2="303.75" y2="58.15" fill="none" stroke="#00cd00" stroke-width="0.75"/><line x1="301.2" y1="55.6" x2="301.2" y2="60.7" fill="none" stroke="#00cd00" stroke-width="0.75"/>
<text x="315.4" y="61.4" class="leg lam">&#923;<tspan class="lsub" dy="1.3">0.025</tspan></text>
<path d="M315.9,54.35 c0.7,-0.6 1.4,-0.6 2.2,-0.1 s1.5,0.5 2.3,-0.2" fill="none" stroke="#000" stroke-width="0.85"/>
<line x1="293.7" y1="67.72" x2="308.7" y2="67.72" stroke="#0000ff" stroke-width="0.62"/>
<line x1="299.4" y1="65.92" x2="303" y2="69.52" fill="none" stroke="#0000ff" stroke-width="0.75"/><line x1="299.4" y1="69.52" x2="303" y2="65.92" fill="none" stroke="#0000ff" stroke-width="0.75"/>
<text x="315.4" y="70.97" class="leg lam">&#923;<tspan class="lsub" dy="1.3">0.05</tspan></text>
<path d="M315.9,63.92 c0.7,-0.6 1.4,-0.6 2.2,-0.1 s1.5,0.5 2.3,-0.2" fill="none" stroke="#000" stroke-width="0.85"/>
<line x1="293.7" y1="77.29" x2="308.7" y2="77.29" stroke="#00ffff" stroke-width="0.62"/>
<polygon points="298.65,77.29 301.2,74.74 303.75,77.29 301.2,79.84" fill="none" stroke="#00ffff" stroke-width="0.75"/>
<text x="315.4" y="80.54" class="leg lam">&#923;<tspan class="lsub" dy="1.3">0.1</tspan></text>
<path d="M315.9,73.49 c0.7,-0.6 1.4,-0.6 2.2,-0.1 s1.5,0.5 2.3,-0.2" fill="none" stroke="#000" stroke-width="0.85"/>
<line x1="293.7" y1="86.86" x2="308.7" y2="86.86" stroke="#ff00ff" stroke-width="0.62"/>
<polygon points="301.2,89.66 303.62,85.46 298.78,85.46" fill="none" stroke="#ff00ff" stroke-width="0.75"/>
<text x="315.4" y="90.11" class="leg lam">&#923;<tspan class="lsub" dy="1.3">0.2</tspan></text>
<path d="M315.9,83.06 c0.7,-0.6 1.4,-0.6 2.2,-0.1 s1.5,0.5 2.3,-0.2" fill="none" stroke="#000" stroke-width="0.85"/>
<line x1="293.7" y1="96.43" x2="308.7" y2="96.43" stroke="#ffff00" stroke-width="0.62"/>
<line x1="299.4" y1="94.63" x2="303" y2="98.23" fill="none" stroke="#ffff00" stroke-width="0.75"/><line x1="299.4" y1="98.23" x2="303" y2="94.63" fill="none" stroke="#ffff00" stroke-width="0.75"/><rect x="299.4" y="94.63" width="3.6" height="3.6" fill="none" stroke="#ffff00" stroke-width="0.75"/>
<text x="315.4" y="99.68" class="leg lam">&#923;<tspan class="lsub" dy="1.3">0.4</tspan></text>
<path d="M315.9,92.63 c0.7,-0.6 1.4,-0.6 2.2,-0.1 s1.5,0.5 2.3,-0.2" fill="none" stroke="#000" stroke-width="0.85"/>
<line x1="293.7" y1="106" x2="308.7" y2="106" stroke="#bebebe" stroke-width="0.62"/>
<line x1="298.65" y1="106" x2="303.75" y2="106" fill="none" stroke="#bebebe" stroke-width="0.75"/><line x1="301.2" y1="103.45" x2="301.2" y2="108.55" fill="none" stroke="#bebebe" stroke-width="0.75"/><line x1="299.4" y1="104.2" x2="303" y2="107.8" fill="none" stroke="#bebebe" stroke-width="0.75"/><line x1="299.4" y1="107.8" x2="303" y2="104.2" fill="none" stroke="#bebebe" stroke-width="0.75"/>
<text x="315.4" y="109.25" class="leg lam">&#923;<tspan class="lsub" dy="1.3">0.6</tspan></text>
<path d="M315.9,102.2 c0.7,-0.6 1.4,-0.6 2.2,-0.1 s1.5,0.5 2.3,-0.2" fill="none" stroke="#000" stroke-width="0.85"/>
<line x1="293.7" y1="115.57" x2="308.7" y2="115.57" stroke="#000000" stroke-width="0.62"/>
<line x1="298.65" y1="115.57" x2="303.75" y2="115.57" fill="none" stroke="#000000" stroke-width="0.75"/><line x1="301.2" y1="113.02" x2="301.2" y2="118.12" fill="none" stroke="#000000" stroke-width="0.75"/><polygon points="298.65,115.57 301.2,113.02 303.75,115.57 301.2,118.12" fill="none" stroke="#000000" stroke-width="0.75"/>
<text x="315.4" y="118.82" class="leg lam">&#923;<tspan class="lsub" dy="1.3">0.8</tspan></text>
<path d="M315.9,111.77 c0.7,-0.6 1.4,-0.6 2.2,-0.1 s1.5,0.5 2.3,-0.2" fill="none" stroke="#000" stroke-width="0.85"/>
</g>
<text x="410.9" y="399" class="capb" textLength="24.1" lengthAdjust="spacingAndGlyphs">(d)</text>
<text x="444.4" y="399" class="cap" textLength="40.7" lengthAdjust="spacingAndGlyphs">Hom.</text>
<text x="492.4" y="399" class="cap" textLength="56.3" lengthAdjust="spacingAndGlyphs">dim=1,</text>
<text x="555.3" y="399" class="cap" textLength="8.5" lengthAdjust="spacingAndGlyphs">5</text>
<text x="570.4" y="399" class="cap" textLength="18.3" lengthAdjust="spacingAndGlyphs">vs.</text>
<text x="597.3" y="399" class="cap" textLength="30.2" lengthAdjust="spacingAndGlyphs">5.75</text>
<g transform="translate(0,408.4)">
<rect x="27.9" y="0.8" width="310.3" height="148.5" fill="none" stroke="#c8c8c8" stroke-width="1"/>
<line x1="24.9" y1="143.6" x2="27.9" y2="143.6" stroke="#b4b4b4" stroke-width="0.8"/>
<text x="0" y="0" transform="translate(22,143.6) rotate(-90)" text-anchor="middle" class="tk">-4</text>
<line x1="24.9" y1="109.28" x2="27.9" y2="109.28" stroke="#b4b4b4" stroke-width="0.8"/>
<text x="0" y="0" transform="translate(22,109.28) rotate(-90)" text-anchor="middle" class="tk">-3</text>
<line x1="24.9" y1="74.95" x2="27.9" y2="74.95" stroke="#b4b4b4" stroke-width="0.8"/>
<text x="0" y="0" transform="translate(22,74.95) rotate(-90)" text-anchor="middle" class="tk">-2</text>
<line x1="24.9" y1="40.62" x2="27.9" y2="40.62" stroke="#b4b4b4" stroke-width="0.8"/>
<text x="0" y="0" transform="translate(22,40.62) rotate(-90)" text-anchor="middle" class="tk">-1</text>
<line x1="24.9" y1="6.3" x2="27.9" y2="6.3" stroke="#b4b4b4" stroke-width="0.8"/>
<text x="0" y="0" transform="translate(22,6.3) rotate(-90)" text-anchor="middle" class="tk">0</text>
<text transform="translate(8,75.3) rotate(-90)" text-anchor="middle" class="lab">Log<tspan class="sub" dy="1.6">10</tspan><tspan dy="-1.6" class="par">(</tspan>Pvalue<tspan class="par">)</tspan></text>
<text x="184.4" y="167.8" text-anchor="middle" class="lab">Functional summary</text>
<line x1="49.5" y1="103.6" x2="49.5" y2="143.6" stroke="#0000ff" stroke-width="0.7"/>
<rect x="46.8" y="140.9" width="5.4" height="5.4" fill="none" stroke="#0000ff" stroke-width="1"/><line x1="46.8" y1="143.6" x2="52.2" y2="143.6" fill="none" stroke="#0000ff" stroke-width="1"/><line x1="49.5" y1="140.9" x2="49.5" y2="146.3" fill="none" stroke="#0000ff" stroke-width="1"/>
<line x1="70.5" y1="77" x2="70.5" y2="143.6" stroke="#00cd00" stroke-width="0.7"/>
<polygon points="70.5,103.3 74.14,110.65 66.86,110.65" fill="none" stroke="#00cd00" stroke-width="1"/><polygon points="70.5,111.7 74.14,104.35 66.86,104.35" fill="none" stroke="#00cd00" stroke-width="1"/>
<line x1="90.5" y1="133.1" x2="90.5" y2="143.6" stroke="#ff0000" stroke-width="0.7"/>
<circle cx="90.5" cy="143.6" r="2.7" fill="none" stroke="#ff0000" stroke-width="1"/><line x1="87.8" y1="143.6" x2="93.2" y2="143.6" fill="none" stroke="#ff0000" stroke-width="1"/><line x1="90.5" y1="140.9" x2="90.5" y2="146.3" fill="none" stroke="#ff0000" stroke-width="1"/>
<line x1="111.5" y1="86.7" x2="111.5" y2="143.6" stroke="#000000" stroke-width="0.7"/>
<circle cx="111.5" cy="114.5" r="2.7" fill="none" stroke="#000000" stroke-width="1"/>
<line x1="131.5" y1="133.1" x2="131.5" y2="143.6" stroke="#ff0000" stroke-width="0.7"/>
<polygon points="131.5,139.4 135.14,145.7 127.86,145.7" fill="none" stroke="#ff0000" stroke-width="1"/>
<line x1="152.5" y1="133.1" x2="152.5" y2="143.6" stroke="#00cd00" stroke-width="0.7"/>
<line x1="148.68" y1="143.6" x2="156.32" y2="143.6" fill="none" stroke="#00cd00" stroke-width="1"/><line x1="152.5" y1="139.78" x2="152.5" y2="147.42" fill="none" stroke="#00cd00" stroke-width="1"/>
<line x1="172.9" y1="127.1" x2="172.9" y2="143.6" stroke="#0000ff" stroke-width="0.7"/>
<line x1="170.2" y1="140.9" x2="175.6" y2="146.3" fill="none" stroke="#0000ff" stroke-width="1"/><line x1="170.2" y1="146.3" x2="175.6" y2="140.9" fill="none" stroke="#0000ff" stroke-width="1"/>
<line x1="193.5" y1="112.5" x2="193.5" y2="143.6" stroke="#00ffff" stroke-width="0.7"/>
<polygon points="189.68,143.6 193.5,139.78 197.32,143.6 193.5,147.42" fill="none" stroke="#00ffff" stroke-width="1"/>
<line x1="214" y1="100.9" x2="214" y2="143.6" stroke="#ff00ff" stroke-width="0.7"/>
<polygon points="214,135.1 217.64,128.8 210.36,128.8" fill="none" stroke="#ff00ff" stroke-width="1"/>
<line x1="234.5" y1="92.3" x2="234.5" y2="143.6" stroke="#ffff00" stroke-width="0.7"/>
<line x1="231.8" y1="118.7" x2="237.2" y2="124.1" fill="none" stroke="#ffff00" stroke-width="1"/><line x1="231.8" y1="124.1" x2="237.2" y2="118.7" fill="none" stroke="#ffff00" stroke-width="1"/><rect x="231.8" y="118.7" width="5.4" height="5.4" fill="none" stroke="#ffff00" stroke-width="1"/>
<line x1="255" y1="90.6" x2="255" y2="143.6" stroke="#bebebe" stroke-width="0.7"/>
<line x1="251.18" y1="114.7" x2="258.82" y2="114.7" fill="none" stroke="#bebebe" stroke-width="1"/><line x1="255" y1="110.88" x2="255" y2="118.52" fill="none" stroke="#bebebe" stroke-width="1"/><line x1="252.3" y1="112" x2="257.7" y2="117.4" fill="none" stroke="#bebebe" stroke-width="1"/><line x1="252.3" y1="117.4" x2="257.7" y2="112" fill="none" stroke="#bebebe" stroke-width="1"/>
<line x1="275.5" y1="82.9" x2="275.5" y2="143.6" stroke="#000000" stroke-width="0.7"/>
<line x1="271.68" y1="113.8" x2="279.32" y2="113.8" fill="none" stroke="#000000" stroke-width="1"/><line x1="275.5" y1="109.98" x2="275.5" y2="117.62" fill="none" stroke="#000000" stroke-width="1"/><polygon points="271.68,113.8 275.5,109.98 279.32,113.8 275.5,117.62" fill="none" stroke="#000000" stroke-width="1"/>
<rect x="291.6" y="0.8" width="46.6" height="124.2" fill="#fff" stroke="#c8c8c8" stroke-width="0.9"/>
<line x1="293.7" y1="10.3" x2="308.7" y2="10.3" stroke="#0000ff" stroke-width="0.62"/>
<rect x="299.4" y="8.5" width="3.6" height="3.6" fill="none" stroke="#0000ff" stroke-width="0.75"/><line x1="299.4" y1="10.3" x2="303" y2="10.3" fill="none" stroke="#0000ff" stroke-width="0.75"/><line x1="301.2" y1="8.5" x2="301.2" y2="12.1" fill="none" stroke="#0000ff" stroke-width="0.75"/>
<text x="315.5" y="13.2" class="leg">Hist</text>
<line x1="293.7" y1="19.87" x2="308.7" y2="19.87" stroke="#00cd00" stroke-width="0.62"/>
<polygon points="301.2,17.07 303.62,21.97 298.78,21.97" fill="none" stroke="#00cd00" stroke-width="0.75"/><polygon points="301.2,22.67 303.62,17.77 298.78,17.77" fill="none" stroke="#00cd00" stroke-width="0.75"/>
<text x="315.5" y="22.77" class="leg">PDT</text>
<line x1="293.7" y1="29.44" x2="308.7" y2="29.44" stroke="#ff0000" stroke-width="0.62"/>
<circle cx="301.2" cy="29.44" r="1.8" fill="none" stroke="#ff0000" stroke-width="0.75"/><line x1="299.4" y1="29.44" x2="303" y2="29.44" fill="none" stroke="#ff0000" stroke-width="0.75"/><line x1="301.2" y1="27.64" x2="301.2" y2="31.24" fill="none" stroke="#ff0000" stroke-width="0.75"/>
<text x="315.5" y="32.34" class="leg">Silh</text>
<line x1="293.7" y1="39.01" x2="308.7" y2="39.01" stroke="#000000" stroke-width="0.62"/>
<circle cx="301.2" cy="39.01" r="1.8" fill="none" stroke="#000000" stroke-width="0.75"/>
<text x="315.6" y="41.81" class="leg lam">&#923;</text>
<line x1="293.7" y1="48.58" x2="308.7" y2="48.58" stroke="#ff0000" stroke-width="0.62"/>
<polygon points="301.2,45.78 303.62,49.98 298.78,49.98" fill="none" stroke="#ff0000" stroke-width="0.75"/>
<text x="315.4" y="51.83" class="leg lam">&#923;<tspan class="lsub" dy="1.3">0.01</tspan></text>
<path d="M315.9,44.78 c0.7,-0.6 1.4,-0.6 2.2,-0.1 s1.5,0.5 2.3,-0.2" fill="none" stroke="#000" stroke-width="0.85"/>
<line x1="293.7" y1="58.15" x2="308.7" y2="58.15" stroke="#00cd00" stroke-width="0.62"/>
<line x1="298.65" y1="58.15" x2="303.75" y2="58.15" fill="none" stroke="#00cd00" stroke-width="0.75"/><line x1="301.2" y1="55.6" x2="301.2" y2="60.7" fill="none" stroke="#00cd00" stroke-width="0.75"/>
<text x="315.4" y="61.4" class="leg lam">&#923;<tspan class="lsub" dy="1.3">0.025</tspan></text>
<path d="M315.9,54.35 c0.7,-0.6 1.4,-0.6 2.2,-0.1 s1.5,0.5 2.3,-0.2" fill="none" stroke="#000" stroke-width="0.85"/>
<line x1="293.7" y1="67.72" x2="308.7" y2="67.72" stroke="#0000ff" stroke-width="0.62"/>
<line x1="299.4" y1="65.92" x2="303" y2="69.52" fill="none" stroke="#0000ff" stroke-width="0.75"/><line x1="299.4" y1="69.52" x2="303" y2="65.92" fill="none" stroke="#0000ff" stroke-width="0.75"/>
<text x="315.4" y="70.97" class="leg lam">&#923;<tspan class="lsub" dy="1.3">0.05</tspan></text>
<path d="M315.9,63.92 c0.7,-0.6 1.4,-0.6 2.2,-0.1 s1.5,0.5 2.3,-0.2" fill="none" stroke="#000" stroke-width="0.85"/>
<line x1="293.7" y1="77.29" x2="308.7" y2="77.29" stroke="#00ffff" stroke-width="0.62"/>
<polygon points="298.65,77.29 301.2,74.74 303.75,77.29 301.2,79.84" fill="none" stroke="#00ffff" stroke-width="0.75"/>
<text x="315.4" y="80.54" class="leg lam">&#923;<tspan class="lsub" dy="1.3">0.1</tspan></text>
<path d="M315.9,73.49 c0.7,-0.6 1.4,-0.6 2.2,-0.1 s1.5,0.5 2.3,-0.2" fill="none" stroke="#000" stroke-width="0.85"/>
<line x1="293.7" y1="86.86" x2="308.7" y2="86.86" stroke="#ff00ff" stroke-width="0.62"/>
<polygon points="301.2,89.66 303.62,85.46 298.78,85.46" fill="none" stroke="#ff00ff" stroke-width="0.75"/>
<text x="315.4" y="90.11" class="leg lam">&#923;<tspan class="lsub" dy="1.3">0.2</tspan></text>
<path d="M315.9,83.06 c0.7,-0.6 1.4,-0.6 2.2,-0.1 s1.5,0.5 2.3,-0.2" fill="none" stroke="#000" stroke-width="0.85"/>
<line x1="293.7" y1="96.43" x2="308.7" y2="96.43" stroke="#ffff00" stroke-width="0.62"/>
<line x1="299.4" y1="94.63" x2="303" y2="98.23" fill="none" stroke="#ffff00" stroke-width="0.75"/><line x1="299.4" y1="98.23" x2="303" y2="94.63" fill="none" stroke="#ffff00" stroke-width="0.75"/><rect x="299.4" y="94.63" width="3.6" height="3.6" fill="none" stroke="#ffff00" stroke-width="0.75"/>
<text x="315.4" y="99.68" class="leg lam">&#923;<tspan class="lsub" dy="1.3">0.4</tspan></text>
<path d="M315.9,92.63 c0.7,-0.6 1.4,-0.6 2.2,-0.1 s1.5,0.5 2.3,-0.2" fill="none" stroke="#000" stroke-width="0.85"/>
<line x1="293.7" y1="106" x2="308.7" y2="106" stroke="#bebebe" stroke-width="0.62"/>
<line x1="298.65" y1="106" x2="303.75" y2="106" fill="none" stroke="#bebebe" stroke-width="0.75"/><line x1="301.2" y1="103.45" x2="301.2" y2="108.55" fill="none" stroke="#bebebe" stroke-width="0.75"/><line x1="299.4" y1="104.2" x2="303" y2="107.8" fill="none" stroke="#bebebe" stroke-width="0.75"/><line x1="299.4" y1="107.8" x2="303" y2="104.2" fill="none" stroke="#bebebe" stroke-width="0.75"/>
<text x="315.4" y="109.25" class="leg lam">&#923;<tspan class="lsub" dy="1.3">0.6</tspan></text>
<path d="M315.9,102.2 c0.7,-0.6 1.4,-0.6 2.2,-0.1 s1.5,0.5 2.3,-0.2" fill="none" stroke="#000" stroke-width="0.85"/>
<line x1="293.7" y1="115.57" x2="308.7" y2="115.57" stroke="#000000" stroke-width="0.62"/>
<line x1="298.65" y1="115.57" x2="303.75" y2="115.57" fill="none" stroke="#000000" stroke-width="0.75"/><line x1="301.2" y1="113.02" x2="301.2" y2="118.12" fill="none" stroke="#000000" stroke-width="0.75"/><polygon points="298.65,115.57 301.2,113.02 303.75,115.57 301.2,118.12" fill="none" stroke="#000000" stroke-width="0.75"/>
<text x="315.4" y="118.82" class="leg lam">&#923;<tspan class="lsub" dy="1.3">0.8</tspan></text>
<path d="M315.9,111.77 c0.7,-0.6 1.4,-0.6 2.2,-0.1 s1.5,0.5 2.3,-0.2" fill="none" stroke="#000" stroke-width="0.85"/>
</g>
<text x="77.5" y="603.4" class="capb" textLength="24.4" lengthAdjust="spacingAndGlyphs">(e)</text>
<text x="109.6" y="603.4" class="cap" textLength="40.7" lengthAdjust="spacingAndGlyphs">Hom.</text>
<text x="157.6" y="603.4" class="cap" textLength="56.3" lengthAdjust="spacingAndGlyphs">dim=1,</text>
<text x="220.5" y="603.4" class="cap" textLength="8.5" lengthAdjust="spacingAndGlyphs">5</text>
<text x="235.6" y="603.4" class="cap" textLength="18.3" lengthAdjust="spacingAndGlyphs">vs.</text>
<text x="262.5" y="603.4" class="cap" textLength="8" lengthAdjust="spacingAndGlyphs">6</text>
<g transform="translate(345.6,408.4)">
<rect x="27.9" y="0.8" width="310.3" height="148.5" fill="none" stroke="#c8c8c8" stroke-width="1"/>
<line x1="24.9" y1="143.6" x2="27.9" y2="143.6" stroke="#b4b4b4" stroke-width="0.8"/>
<text x="0" y="0" transform="translate(22,143.6) rotate(-90)" text-anchor="middle" class="tk">-4</text>
<line x1="24.9" y1="109.28" x2="27.9" y2="109.28" stroke="#b4b4b4" stroke-width="0.8"/>
<text x="0" y="0" transform="translate(22,109.28) rotate(-90)" text-anchor="middle" class="tk">-3</text>
<line x1="24.9" y1="74.95" x2="27.9" y2="74.95" stroke="#b4b4b4" stroke-width="0.8"/>
<text x="0" y="0" transform="translate(22,74.95) rotate(-90)" text-anchor="middle" class="tk">-2</text>
<line x1="24.9" y1="40.62" x2="27.9" y2="40.62" stroke="#b4b4b4" stroke-width="0.8"/>
<text x="0" y="0" transform="translate(22,40.62) rotate(-90)" text-anchor="middle" class="tk">-1</text>
<line x1="24.9" y1="6.3" x2="27.9" y2="6.3" stroke="#b4b4b4" stroke-width="0.8"/>
<text x="0" y="0" transform="translate(22,6.3) rotate(-90)" text-anchor="middle" class="tk">0</text>
<text transform="translate(8,75.3) rotate(-90)" text-anchor="middle" class="lab">Log<tspan class="sub" dy="1.6">10</tspan><tspan dy="-1.6" class="par">(</tspan>Pvalue<tspan class="par">)</tspan></text>
<text x="184.4" y="167.8" text-anchor="middle" class="lab">Functional summary</text>
<rect x="46.8" y="140.9" width="5.4" height="5.4" fill="none" stroke="#0000ff" stroke-width="1"/><line x1="46.8" y1="143.6" x2="52.2" y2="143.6" fill="none" stroke="#0000ff" stroke-width="1"/><line x1="49.5" y1="140.9" x2="49.5" y2="146.3" fill="none" stroke="#0000ff" stroke-width="1"/>
<polygon points="70.05,139.4 73.69,146.75 66.41,146.75" fill="none" stroke="#00cd00" stroke-width="1"/><polygon points="70.05,147.8 73.69,140.45 66.41,140.45" fill="none" stroke="#00cd00" stroke-width="1"/>
<circle cx="90.6" cy="143.6" r="2.7" fill="none" stroke="#ff0000" stroke-width="1"/><line x1="87.9" y1="143.6" x2="93.3" y2="143.6" fill="none" stroke="#ff0000" stroke-width="1"/><line x1="90.6" y1="140.9" x2="90.6" y2="146.3" fill="none" stroke="#ff0000" stroke-width="1"/>
<circle cx="111.15" cy="143.6" r="2.7" fill="none" stroke="#000000" stroke-width="1"/>
<polygon points="131.7,139.4 135.34,145.7 128.06,145.7" fill="none" stroke="#ff0000" stroke-width="1"/>
<line x1="148.43" y1="143.6" x2="156.07" y2="143.6" fill="none" stroke="#00cd00" stroke-width="1"/><line x1="152.25" y1="139.78" x2="152.25" y2="147.42" fill="none" stroke="#00cd00" stroke-width="1"/>
<line x1="170.1" y1="140.9" x2="175.5" y2="146.3" fill="none" stroke="#0000ff" stroke-width="1"/><line x1="170.1" y1="146.3" x2="175.5" y2="140.9" fill="none" stroke="#0000ff" stroke-width="1"/>
<polygon points="189.53,143.6 193.35,139.78 197.17,143.6 193.35,147.42" fill="none" stroke="#00ffff" stroke-width="1"/>
<polygon points="213.9,147.8 217.54,141.5 210.26,141.5" fill="none" stroke="#ff00ff" stroke-width="1"/>
<line x1="231.75" y1="140.9" x2="237.15" y2="146.3" fill="none" stroke="#ffff00" stroke-width="1"/><line x1="231.75" y1="146.3" x2="237.15" y2="140.9" fill="none" stroke="#ffff00" stroke-width="1"/><rect x="231.75" y="140.9" width="5.4" height="5.4" fill="none" stroke="#ffff00" stroke-width="1"/>
<line x1="251.18" y1="143.6" x2="258.82" y2="143.6" fill="none" stroke="#bebebe" stroke-width="1"/><line x1="255" y1="139.78" x2="255" y2="147.42" fill="none" stroke="#bebebe" stroke-width="1"/><line x1="252.3" y1="140.9" x2="257.7" y2="146.3" fill="none" stroke="#bebebe" stroke-width="1"/><line x1="252.3" y1="146.3" x2="257.7" y2="140.9" fill="none" stroke="#bebebe" stroke-width="1"/>
<line x1="271.73" y1="143.6" x2="279.37" y2="143.6" fill="none" stroke="#000000" stroke-width="1"/><line x1="275.55" y1="139.78" x2="275.55" y2="147.42" fill="none" stroke="#000000" stroke-width="1"/><polygon points="271.73,143.6 275.55,139.78 279.37,143.6 275.55,147.42" fill="none" stroke="#000000" stroke-width="1"/>
<rect x="291.6" y="0.8" width="46.6" height="124.2" fill="#fff" stroke="#c8c8c8" stroke-width="0.9"/>
<line x1="293.7" y1="10.3" x2="308.7" y2="10.3" stroke="#0000ff" stroke-width="0.62"/>
<rect x="299.4" y="8.5" width="3.6" height="3.6" fill="none" stroke="#0000ff" stroke-width="0.75"/><line x1="299.4" y1="10.3" x2="303" y2="10.3" fill="none" stroke="#0000ff" stroke-width="0.75"/><line x1="301.2" y1="8.5" x2="301.2" y2="12.1" fill="none" stroke="#0000ff" stroke-width="0.75"/>
<text x="315.5" y="13.2" class="leg">Hist</text>
<line x1="293.7" y1="19.87" x2="308.7" y2="19.87" stroke="#00cd00" stroke-width="0.62"/>
<polygon points="301.2,17.07 303.62,21.97 298.78,21.97" fill="none" stroke="#00cd00" stroke-width="0.75"/><polygon points="301.2,22.67 303.62,17.77 298.78,17.77" fill="none" stroke="#00cd00" stroke-width="0.75"/>
<text x="315.5" y="22.77" class="leg">PDT</text>
<line x1="293.7" y1="29.44" x2="308.7" y2="29.44" stroke="#ff0000" stroke-width="0.62"/>
<circle cx="301.2" cy="29.44" r="1.8" fill="none" stroke="#ff0000" stroke-width="0.75"/><line x1="299.4" y1="29.44" x2="303" y2="29.44" fill="none" stroke="#ff0000" stroke-width="0.75"/><line x1="301.2" y1="27.64" x2="301.2" y2="31.24" fill="none" stroke="#ff0000" stroke-width="0.75"/>
<text x="315.5" y="32.34" class="leg">Silh</text>
<line x1="293.7" y1="39.01" x2="308.7" y2="39.01" stroke="#000000" stroke-width="0.62"/>
<circle cx="301.2" cy="39.01" r="1.8" fill="none" stroke="#000000" stroke-width="0.75"/>
<text x="315.6" y="41.81" class="leg lam">&#923;</text>
<line x1="293.7" y1="48.58" x2="308.7" y2="48.58" stroke="#ff0000" stroke-width="0.62"/>
<polygon points="301.2,45.78 303.62,49.98 298.78,49.98" fill="none" stroke="#ff0000" stroke-width="0.75"/>
<text x="315.4" y="51.83" class="leg lam">&#923;<tspan class="lsub" dy="1.3">0.01</tspan></text>
<path d="M315.9,44.78 c0.7,-0.6 1.4,-0.6 2.2,-0.1 s1.5,0.5 2.3,-0.2" fill="none" stroke="#000" stroke-width="0.85"/>
<line x1="293.7" y1="58.15" x2="308.7" y2="58.15" stroke="#00cd00" stroke-width="0.62"/>
<line x1="298.65" y1="58.15" x2="303.75" y2="58.15" fill="none" stroke="#00cd00" stroke-width="0.75"/><line x1="301.2" y1="55.6" x2="301.2" y2="60.7" fill="none" stroke="#00cd00" stroke-width="0.75"/>
<text x="315.4" y="61.4" class="leg lam">&#923;<tspan class="lsub" dy="1.3">0.025</tspan></text>
<path d="M315.9,54.35 c0.7,-0.6 1.4,-0.6 2.2,-0.1 s1.5,0.5 2.3,-0.2" fill="none" stroke="#000" stroke-width="0.85"/>
<line x1="293.7" y1="67.72" x2="308.7" y2="67.72" stroke="#0000ff" stroke-width="0.62"/>
<line x1="299.4" y1="65.92" x2="303" y2="69.52" fill="none" stroke="#0000ff" stroke-width="0.75"/><line x1="299.4" y1="69.52" x2="303" y2="65.92" fill="none" stroke="#0000ff" stroke-width="0.75"/>
<text x="315.4" y="70.97" class="leg lam">&#923;<tspan class="lsub" dy="1.3">0.05</tspan></text>
<path d="M315.9,63.92 c0.7,-0.6 1.4,-0.6 2.2,-0.1 s1.5,0.5 2.3,-0.2" fill="none" stroke="#000" stroke-width="0.85"/>
<line x1="293.7" y1="77.29" x2="308.7" y2="77.29" stroke="#00ffff" stroke-width="0.62"/>
<polygon points="298.65,77.29 301.2,74.74 303.75,77.29 301.2,79.84" fill="none" stroke="#00ffff" stroke-width="0.75"/>
<text x="315.4" y="80.54" class="leg lam">&#923;<tspan class="lsub" dy="1.3">0.1</tspan></text>
<path d="M315.9,73.49 c0.7,-0.6 1.4,-0.6 2.2,-0.1 s1.5,0.5 2.3,-0.2" fill="none" stroke="#000" stroke-width="0.85"/>
<line x1="293.7" y1="86.86" x2="308.7" y2="86.86" stroke="#ff00ff" stroke-width="0.62"/>
<polygon points="301.2,89.66 303.62,85.46 298.78,85.46" fill="none" stroke="#ff00ff" stroke-width="0.75"/>
<text x="315.4" y="90.11" class="leg lam">&#923;<tspan class="lsub" dy="1.3">0.2</tspan></text>
<path d="M315.9,83.06 c0.7,-0.6 1.4,-0.6 2.2,-0.1 s1.5,0.5 2.3,-0.2" fill="none" stroke="#000" stroke-width="0.85"/>
<line x1="293.7" y1="96.43" x2="308.7" y2="96.43" stroke="#ffff00" stroke-width="0.62"/>
<line x1="299.4" y1="94.63" x2="303" y2="98.23" fill="none" stroke="#ffff00" stroke-width="0.75"/><line x1="299.4" y1="98.23" x2="303" y2="94.63" fill="none" stroke="#ffff00" stroke-width="0.75"/><rect x="299.4" y="94.63" width="3.6" height="3.6" fill="none" stroke="#ffff00" stroke-width="0.75"/>
<text x="315.4" y="99.68" class="leg lam">&#923;<tspan class="lsub" dy="1.3">0.4</tspan></text>
<path d="M315.9,92.63 c0.7,-0.6 1.4,-0.6 2.2,-0.1 s1.5,0.5 2.3,-0.2" fill="none" stroke="#000" stroke-width="0.85"/>
<line x1="293.7" y1="106" x2="308.7" y2="106" stroke="#bebebe" stroke-width="0.62"/>
<line x1="298.65" y1="106" x2="303.75" y2="106" fill="none" stroke="#bebebe" stroke-width="0.75"/><line x1="301.2" y1="103.45" x2="301.2" y2="108.55" fill="none" stroke="#bebebe" stroke-width="0.75"/><line x1="299.4" y1="104.2" x2="303" y2="107.8" fill="none" stroke="#bebebe" stroke-width="0.75"/><line x1="299.4" y1="107.8" x2="303" y2="104.2" fill="none" stroke="#bebebe" stroke-width="0.75"/>
<text x="315.4" y="109.25" class="leg lam">&#923;<tspan class="lsub" dy="1.3">0.6</tspan></text>
<path d="M315.9,102.2 c0.7,-0.6 1.4,-0.6 2.2,-0.1 s1.5,0.5 2.3,-0.2" fill="none" stroke="#000" stroke-width="0.85"/>
<line x1="293.7" y1="115.57" x2="308.7" y2="115.57" stroke="#000000" stroke-width="0.62"/>
<line x1="298.65" y1="115.57" x2="303.75" y2="115.57" fill="none" stroke="#000000" stroke-width="0.75"/><line x1="301.2" y1="113.02" x2="301.2" y2="118.12" fill="none" stroke="#000000" stroke-width="0.75"/><polygon points="298.65,115.57 301.2,113.02 303.75,115.57 301.2,118.12" fill="none" stroke="#000000" stroke-width="0.75"/>
<text x="315.4" y="118.82" class="leg lam">&#923;<tspan class="lsub" dy="1.3">0.8</tspan></text>
<path d="M315.9,111.77 c0.7,-0.6 1.4,-0.6 2.2,-0.1 s1.5,0.5 2.3,-0.2" fill="none" stroke="#000" stroke-width="0.85"/>
</g>
<text x="425.8" y="603.4" class="capb" textLength="19.2" lengthAdjust="spacingAndGlyphs">(f)</text>
<text x="454.4" y="603.4" class="cap" textLength="40.7" lengthAdjust="spacingAndGlyphs">Hom.</text>
<text x="502.4" y="603.4" class="cap" textLength="56.3" lengthAdjust="spacingAndGlyphs">dim=1,</text>
<text x="565.3" y="603.4" class="cap" textLength="8.5" lengthAdjust="spacingAndGlyphs">5</text>
<text x="580.4" y="603.4" class="cap" textLength="18.3" lengthAdjust="spacingAndGlyphs">vs.</text>
<text x="607.3" y="603.4" class="cap" textLength="7.4" lengthAdjust="spacingAndGlyphs">7</text>
</svg>
</body></html>
